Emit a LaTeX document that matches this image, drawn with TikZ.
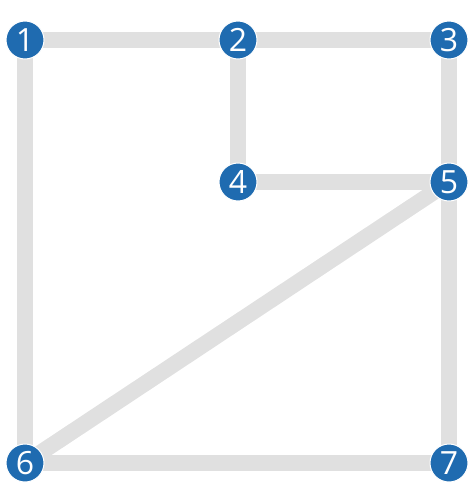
\documentclass[tikz,border=0pt]{standalone}
\usepackage{fontspec}
\setmainfont{Open Sans}
\usetikzlibrary{backgrounds}
\definecolor{nodeblue}{HTML}{1F6BB0}
\definecolor{edgegray}{HTML}{E0E0E0}
\begin{document}
\begin{tikzpicture}[x=1pt,y=-1pt,
  vtx/.style={circle,fill=nodeblue,draw=white,line width=1pt,minimum size=38pt,inner sep=0pt,text=white,font=\fontsize{32}{32}\selectfont},
  edge/.style={edgegray,line width=16pt}]
\useasboundingbox (0,0) rectangle (469,485);
\node[vtx] (n1) at (25,40) {1};
\node[vtx] (n2) at (238,40) {2};
\node[vtx] (n3) at (449,40) {3};
\node[vtx] (n4) at (238,182) {4};
\node[vtx] (n5) at (449,182) {5};
\node[vtx] (n6) at (25,463) {6};
\node[vtx] (n7) at (449,463) {7};
\begin{pgfonlayer}{background}
\draw[edge] (n1.center) -- (n2.center);
\draw[edge] (n2.center) -- (n3.center);
\draw[edge] (n1.center) -- (n6.center);
\draw[edge] (n2.center) -- (n4.center);
\draw[edge] (n3.center) -- (n5.center);
\draw[edge] (n4.center) -- (n5.center);
\draw[edge] (n5.center) -- (n6.center);
\draw[edge] (n5.center) -- (n7.center);
\draw[edge] (n6.center) -- (n7.center);
\end{pgfonlayer}
\end{tikzpicture}
\end{document}
